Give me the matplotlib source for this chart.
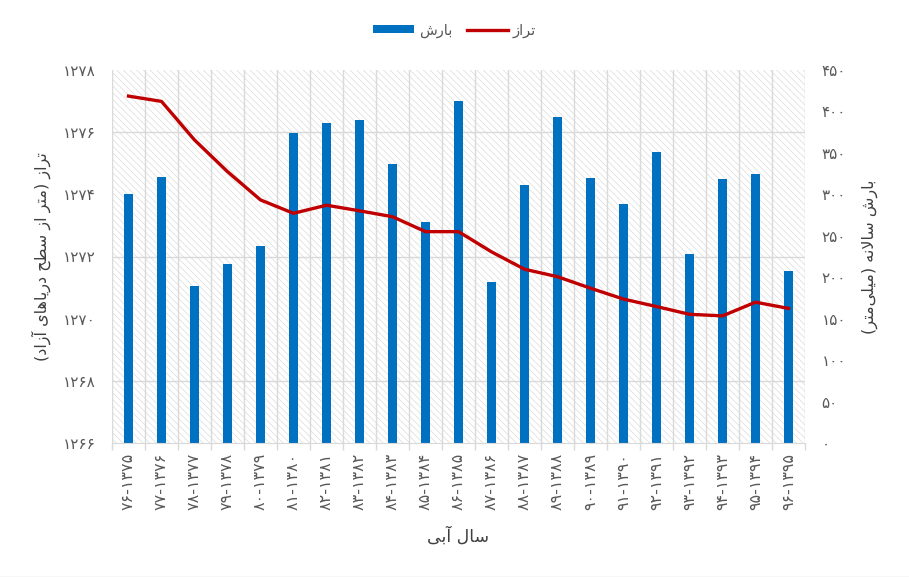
import matplotlib
matplotlib.use("Agg")
import matplotlib.pyplot as plt
from matplotlib.patches import Rectangle, Patch
from matplotlib.lines import Line2D
from matplotlib.ticker import FixedLocator, MultipleLocator

# ---------------- data ----------------
years = ['۷۶-۱۳۷۵', '۷۷-۱۳۷۶', '۷۸-۱۳۷۷', '۷۹-۱۳۷۸', '۸۰-۱۳۷۹', '۸۱-۱۳۸۰',
         '۸۲-۱۳۸۱', '۸۳-۱۳۸۲', '۸۴-۱۳۸۳', '۸۵-۱۳۸۴', '۸۶-۱۳۸۵', '۸۷-۱۳۸۶',
         '۸۸-۱۳۸۷', '۸۹-۱۳۸۸', '۹۰-۱۳۸۹', '۹۱-۱۳۹۰', '۹۲-۱۳۹۱', '۹۳-۱۳۹۲',
         '۹۴-۱۳۹۳', '۹۵-۱۳۹۴', '۹۶-۱۳۹۵']
rainfall = [300, 321, 189, 216, 238, 374, 386, 390, 337, 267, 413, 194,
            311, 393, 320, 288, 351, 228, 318, 324, 207]
level = [1277.16, 1276.99, 1275.75, 1274.73, 1273.82, 1273.39, 1273.65,
         1273.47, 1273.28, 1272.80, 1272.80, 1272.15, 1271.59, 1271.35,
         1270.98, 1270.63, 1270.39, 1270.14, 1270.09, 1270.53, 1270.33]
left_ticks = [1266, 1268, 1270, 1272, 1274, 1276, 1278]
left_tick_labels = ['۱۲۶۶', '۱۲۶۸', '۱۲۷۰', '۱۲۷۲', '۱۲۷۴', '۱۲۷۶', '۱۲۷۸']
right_ticks = [0, 50, 100, 150, 200, 250, 300, 350, 400, 450]
right_tick_labels = ['۰', '۵۰', '۱۰۰', '۱۵۰', '۲۰۰', '۲۵۰', '۳۰۰', '۳۵۰', '۴۰۰', '۴۵۰']

# Persian texts (pre-shaped presentation forms, visual order)
LBL_RAIN = '\uFEB5\uFEAD\uFE8E\uFE91'          # بارش
LBL_LEVEL = '\uFEAF\uFE8D\uFEAE\uFE97'         # تراز
XLABEL = '\uFEF0\uFE91\uFE81 \uFEDD\uFE8E\uFEB3'  # سال آبی
YLEFT = ('(\uFEA9\uFE8D\uFEAF\uFE81 \uFEEF\uFE8E\uFEEB\uFE8E\uFEF3\uFEAD\uFEA9 '
         '\uFEA2\uFEC4\uFEB3 \uFEAF\uFE8D \uFEAE\uFE98\uFEE3) \uFEAF\uFE8D\uFEAE\uFE97')
YRIGHT = ('(\uFEAE\uFE98\uFEE3\uFEF0\uFEE0\uFEF4\uFEE3) \uFEEA\uFEE7\uFEFB\uFE8E\uFEB3 '
          '\uFEB5\uFEAD\uFE8E\uFE91')

# ---------------- style ----------------
plt.rcParams['font.family'] = ['DejaVu Sans']
plt.rcParams['hatch.linewidth'] = 0.5
TXT = '#595959'
TITLE = '#3f3f3f'
GRID = '#d9d9d9'
BLUE = '#0070C0'
RED = '#C00000'

fig = plt.figure(figsize=(9.09, 5.77), dpi=100)
ax = fig.add_axes([112/909, 1-443/577, 693/909, 373/577])
ax2 = ax.twinx()

x = list(range(len(years)))

# background hatch
ax.add_patch(Rectangle((0, 0), 1, 1, transform=ax.transAxes, facecolor='white',
                       edgecolor='#dcdcdc', lw=0, hatch='\\' * 5, zorder=0.1))
ax.set_axisbelow(True)

ax.bar(x, rainfall, width=0.3, color=BLUE, zorder=2)
ax.set_xlim(-0.5, len(years) - 0.5)
ax.set_ylim(0, 450)

ax2.plot(x, level, color=RED, lw=2.4, zorder=3, solid_joinstyle='round')
ax2.set_ylim(1266, 1278)

# y axes placement: bars on right, level on left
ax.yaxis.tick_right()
ax.yaxis.set_label_position('right')
ax2.yaxis.tick_left()
ax2.yaxis.set_label_position('left')

ax.set_yticks(right_ticks)
ax.set_yticklabels(right_tick_labels)
ax2.set_yticks(left_ticks)
ax2.set_yticklabels(left_tick_labels)

# grid: horizontal lines aligned to left-axis ticks, drawn under bars
ax.yaxis.set_minor_locator(MultipleLocator(75))
ax.grid(which='minor', axis='y', color=GRID, lw=1.0)
ax.xaxis.set_minor_locator(FixedLocator([i - 0.5 for i in range(len(years) + 1)]))
ax.grid(which='minor', axis='x', color=GRID, lw=1.0)
ax.grid(which='major', visible=False)

ax.set_xticks(x)
ax.set_xticklabels(years, rotation=90)

ax.tick_params(axis='x', which='major', length=0, pad=7, labelsize=11.5, labelcolor=TXT)
ax.tick_params(axis='x', which='minor', length=5, color=GRID, width=1)
ax.tick_params(axis='y', which='both', length=0, pad=12, labelsize=11, labelcolor=TXT)
ax2.tick_params(axis='y', length=0, pad=12, labelsize=11, labelcolor=TXT)

for a in (ax, ax2):
    for s in a.spines.values():
        s.set_visible(False)
ax.spines['bottom'].set_visible(True)
ax.spines['bottom'].set_color(GRID)

ax.set_xlabel(XLABEL, fontsize=12.5, color=TITLE, labelpad=12)
ax2.set_ylabel(YLEFT, fontsize=11.5, color=TITLE, labelpad=8)
ax.set_ylabel(YRIGHT, fontsize=11.5, color=TITLE, rotation=90, labelpad=11)

handles = [Patch(facecolor=BLUE, edgecolor='none'),
           Line2D([], [], color=RED, lw=2.4)]
fig.legend(handles, [LBL_RAIN, LBL_LEVEL], loc='center', bbox_to_anchor=(0.5, 1-30/577),
           ncol=2, frameon=False, fontsize=10.5, labelcolor=TXT,
           handlelength=2.8, handleheight=0.5, columnspacing=1.0, handletextpad=0.35)

fig.add_artist(Line2D([0, 1], [0.5/577, 0.5/577], color=GRID, lw=1, transform=fig.transFigure))

fig.savefig('out.png', dpi=100)
